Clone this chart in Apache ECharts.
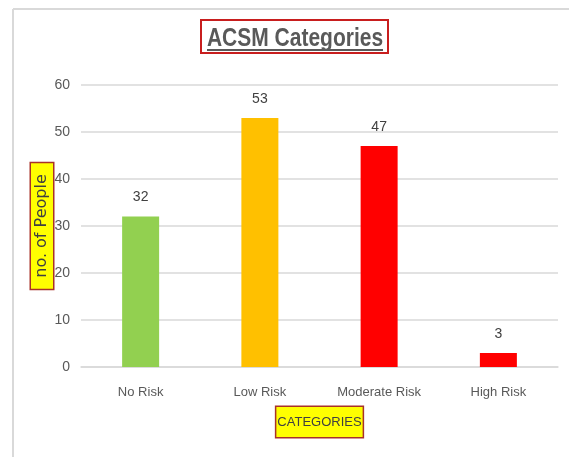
<!DOCTYPE html>
<html>
<head>
<meta charset="utf-8">
<script src="https://cdn.jsdelivr.net/npm/echarts@6/dist/echarts.min.js"></script>
<style>
html,body{margin:0;padding:0;background:#fff;}
#chart{width:569px;height:457px;}
</style>
</head>
<body>
<div id="chart"></div>
<script>
const chartTitle = 'ACSM Categories';
const categories = ['No Risk', 'Low Risk', 'Moderate Risk', 'High Risk'];
const peopleCounts = [32, 53, 47, 3];
const yTicks = [0, 10, 20, 30, 40, 50, 60];

const barColors = ['#92d050', '#ffc000', '#ff0000', '#ff0000'];
const sans = "'Liberation Sans', Arial, sans-serif";

const chart = echarts.init(document.getElementById('chart'), null, {renderer: 'canvas'});
chart.setOption({
  backgroundColor: '#ffffff',
  animation: false,
  graphic: [
    { type: 'line', shape: {x1: 13, y1: 9, x2: 569, y2: 9}, style: {stroke: '#d9d9d9', lineWidth: 2} },
    { type: 'line', shape: {x1: 13, y1: 9, x2: 13, y2: 457}, style: {stroke: '#d9d9d9', lineWidth: 2} },
    { type: 'rect', shape: {x: 201, y: 20, width: 187, height: 33}, style: {fill: '#ffffff', stroke: '#c81e1e', lineWidth: 2}, z: 90 },
    { type: 'text', x: 295, y: 39.5, scaleX: 0.84, z: 100,
      style: { x: 0, y: 0, text: chartTitle, textAlign: 'center', textVerticalAlign: 'middle',
               font: "bold 25px 'Liberation Sans', Arial, sans-serif", fill: '#595959' } },
    { type: 'line', shape: {x1: 207, y1: 50, x2: 383, y2: 50}, style: {stroke: '#595959', lineWidth: 2}, z: 100 }
  ],
  grid: { left: 81, right: 11, top: 85, bottom: 90, containLabel: false },
  xAxis: {
    type: 'category',
    data: categories,
    name: 'CATEGORIES',
    nameLocation: 'middle',
    nameMoveOverlap: false,
    nameGap: 40,
    nameTextStyle: {
      fontFamily: sans,
      fontSize: 13,
      color: '#404040',
      backgroundColor: '#ffff00',
      borderColor: '#a83228',
      borderWidth: 1.5,
      padding: [9, 1, 8, 1]
    },
    axisLine: { lineStyle: { color: '#d9d9d9', width: 1.5 } },
    axisTick: { show: false },
    axisLabel: { fontFamily: sans, fontSize: 13, color: '#595959', margin: 19 }
  },
  yAxis: {
    type: 'value',
    min: yTicks[0],
    max: yTicks[yTicks.length - 1],
    interval: 10,
    name: 'no. of People',
    nameLocation: 'middle',
    nameMoveOverlap: false,
    nameRotate: 90,
    nameGap: 28,
    nameTextStyle: {
      fontFamily: "'DejaVu Sans', Verdana, sans-serif",
      fontSize: 16,
      color: '#404040',
      backgroundColor: '#ffff00',
      borderColor: '#a83228',
      borderWidth: 1.5,
      padding: [3, 11, 3, 11]
    },
    axisLine: { show: false },
    axisTick: { show: false },
    splitLine: { lineStyle: { color: '#d9d9d9', width: 1.5 } },
    axisLabel: { fontFamily: sans, fontSize: 14, color: '#595959', margin: 11 }
  },
  series: [{
    type: 'bar',
    data: peopleCounts.map((v, i) => ({ value: v, itemStyle: { color: barColors[i] } })),
    barWidth: 37,
    label: {
      show: true,
      position: 'top',
      distance: 12,
      fontFamily: sans,
      fontSize: 14,
      color: '#404040'
    }
  }]
});
</script>
</body>
</html>
